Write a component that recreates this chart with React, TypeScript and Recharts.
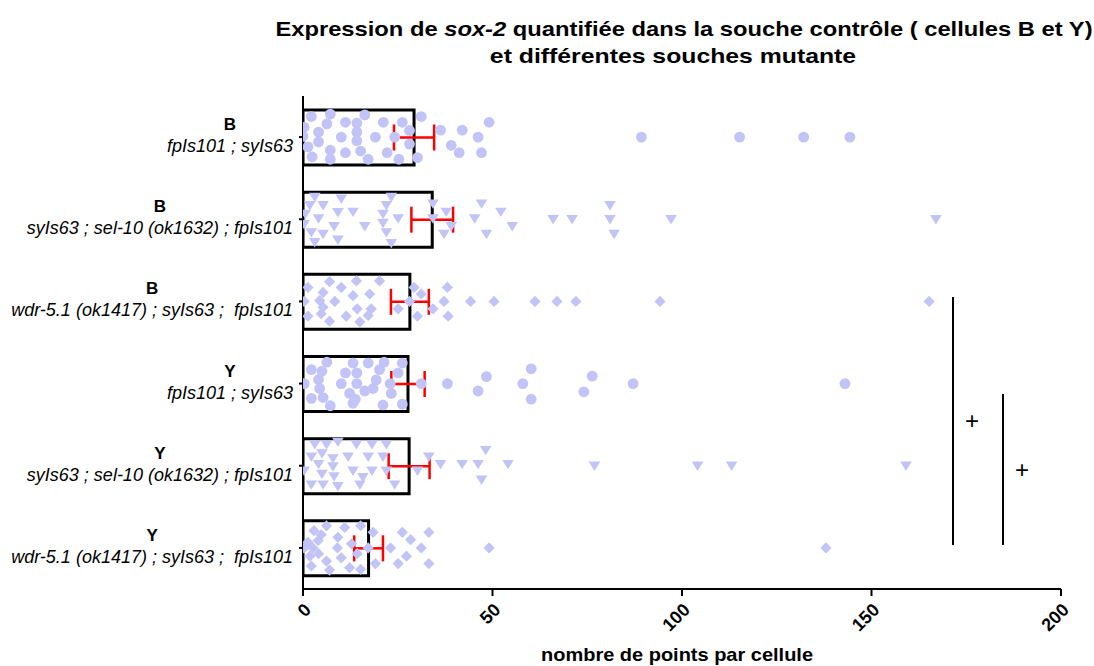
import React from 'react';
import { ComposedChart, Bar, XAxis, YAxis, Scatter, ErrorBar, ReferenceLine } from 'recharts';

const FONT = "'Liberation Sans', Arial, Helvetica, sans-serif";
const POINT_COLOR = '#c2c3f7';

// ---- data ----
const cellTypes = ['B', 'B', 'B', 'Y', 'Y', 'Y'];
const genotypes = [
  'fpIs101 ; syIs63',
  'syIs63 ; sel-10 (ok1632) ; fpIs101',
  'wdr-5.1 (ok1417) ; syIs63 ;  fpIs101',
  'fpIs101 ; syIs63',
  'syIs63 ; sel-10 (ok1632) ; fpIs101',
  'wdr-5.1 (ok1417) ; syIs63 ;  fpIs101',
];
const means = [29.3, 34.1, 28.2, 27.7, 28.0, 17.3];
const errors = [5.3, 5.5, 5.0, 4.4, 5.4, 3.8];
const xTicks = [0, 50, 100, 150, 200];

// each point: [value, vertical jitter in category units]
const pointsG1 = [[2.2,-0.25],[7.2,-0.28],[16.3,-0.27],[0.3,-0.12],[6.3,-0.16],[11.2,-0.18],[14.2,-0.17],[21.2,-0.18],[26.2,-0.18],[31.2,-0.25],[0,-0.01],[4.1,-0.06],[10.1,0],[14.2,-0.06],[19.1,0],[24.2,0],[28.1,-0.08],[4.1,0.06],[14.2,0.045],[1.3,0.12],[7.2,0.16],[11.2,0.19],[15.2,0.17],[22.2,0.19],[28.1,0.085],[2.4,0.24],[7.2,0.27],[17.2,0.27],[25.3,0.27],[30.2,0.25],[36.3,-0.085],[42.0,-0.085],[49.1,-0.18],[46.2,0],[39.1,0.1],[41.2,0.19],[47.1,0.19],[89.3,0],[115.2,0],[132.1,0],[144.3,0]];
const pointsG2 = [[3.1,-0.27],[10.1,-0.25],[23.3,-0.27],[1.8,-0.17],[5.3,-0.17],[22.0,-0.17],[0.6,-0.065],[4.1,-0.01],[9.2,-0.085],[13.2,-0.09],[21.1,-0.065],[25.1,-0.01],[0.3,0.06],[8.2,0.085],[16.3,0.085],[21.1,0.045],[2.2,0.16],[5.3,0.18],[22.0,0.16],[3.1,0.28],[9.2,0.25],[23.3,0.29],[34.3,-0.19],[37.8,-0.09],[34.3,-0.01],[39.1,0.085],[37.2,0.18],[47.1,-0.19],[52.2,-0.09],[45.3,-0.01],[55.2,0.085],[48.4,0.18],[66.0,0],[71.0,0],[81.0,-0.17],[81.0,0],[82.1,0.18],[97.1,0],[167.0,0]];
const pointsG3 = [[1.3,-0.17],[7.0,-0.24],[10.1,-0.17],[14.1,-0.25],[20.2,-0.25],[5.3,-0.11],[13.2,-0.07],[17.6,-0.09],[0.3,0],[4.4,-0.01],[8.4,0],[1.3,0.18],[5.3,0.07],[4.8,0.15],[11.4,0.18],[14.3,0.09],[18.0,0.09],[17.2,0.17],[7.0,0.24],[15.0,0.25],[25.1,0.09],[28.1,0],[29.3,-0.17],[31.2,-0.09],[34.3,0.09],[30.2,0.18],[38.1,-0.17],[37.2,0],[38.3,0.18],[44.2,0],[50.4,0],[61.2,0],[67.0,0],[72.0,0],[94.2,0],[165.2,0]];
const pointsG4 = [[2.2,-0.17],[6.3,-0.26],[13.2,-0.25],[17.2,-0.25],[21.4,-0.26],[26.2,-0.25],[5.0,-0.15],[11.2,-0.13],[14.2,-0.13],[20.2,-0.17],[25.1,-0.13],[0.3,0],[4.1,-0.05],[10.1,0],[14.2,0],[19.3,-0.045],[23.0,0],[4.4,0.06],[12.3,0.12],[16.3,0.09],[18.5,0.06],[23.3,0.12],[2.2,0.18],[5.3,0.17],[13.8,0.19],[13.2,0.24],[7.2,0.27],[21.1,0.26],[26.2,0.25],[31.2,0],[38.1,0],[46.2,0.09],[48.4,-0.085],[58.0,0],[60.2,-0.18],[60.2,0.19],[76.3,-0.09],[74.1,0.1],[87.1,0],[143.0,0]];
const pointsG5 = [[3.1,-0.26],[6.2,-0.26],[9.2,-0.29],[14.1,-0.26],[18.2,-0.26],[22.0,-0.26],[2.2,-0.11],[5.0,-0.15],[7.9,-0.09],[11.9,-0.11],[17.2,-0.11],[21.1,-0.11],[0.3,0.06],[4.1,-0.02],[7.9,0.01],[13.2,0.06],[18.2,0.06],[22.0,0.06],[5.0,0.1],[8.2,0.13],[15.8,0.14],[2.2,0.23],[5.3,0.23],[9.2,0.25],[15.0,0.23],[24.2,0.23],[30.2,0.06],[33.2,-0.11],[36.3,-0.02],[42.0,-0.02],[46.2,-0.02],[48.2,-0.19],[47.1,0.17],[54.1,-0.02],[76.9,0],[104.1,0],[113.1,0],[159.1,0]];
const pointsG6 = [[2.9,-0.21],[6.2,-0.27],[11.0,-0.25],[15.2,-0.27],[18.5,-0.19],[4.8,-0.16],[9.2,-0.13],[12.8,-0.05],[1.3,-0.07],[4.0,-0.09],[0.3,0],[2.6,0],[9.1,0],[17.2,0],[1.8,0.1],[4.1,0.07],[6.2,0.16],[10.1,0.12],[14.3,0.07],[2.2,0.22],[7.0,0.27],[12.3,0.24],[15.2,0.26],[19.1,0.19],[23.1,0],[26.2,-0.19],[28.4,-0.1],[27.3,0.1],[25.1,0.19],[31.2,0],[33.2,-0.19],[33.2,0.19],[49.1,0],[138.0,0]];
const groupPoints = [pointsG1, pointsG2, pointsG3, pointsG4, pointsG5, pointsG6];
const groupShapes = ['circle', 'triangle', 'diamond', 'circle', 'triangle', 'diamond'];

// significance brackets: x value, top and bottom in category units
const sigX = [171.5, 184.7];
const sigTop = [2.446, 3.627];
const sigBottom = [5.464, 5.464];
const sigLabels = ['+', '+'];

const chartData = genotypes.map((g, i) => ({
  name: `${cellTypes[i]}|${g}|${i}`,
  mean: means[i],
  err: errors[i],
}));

const scatterSets = groupPoints.map((pts, i) =>
  pts.map(([v, j]) => ({ x: v, y: i + 0.5 + j }))
);

const LABEL_SIZE = 18;

let ctx: CanvasRenderingContext2D | null = null;
function textWidth(t: string, font: string): number {
  if (!ctx) ctx = document.createElement('canvas').getContext('2d');
  if (!ctx) return t.length * 8;
  ctx.font = font;
  return ctx.measureText(t).width;
}

const CategoryTick = (props: any) => {
  const { x, y, payload } = props;
  const parts = String(payload.value).split('|');
  const cell = parts[0];
  const geno = parts[1];
  const w = textWidth(geno, `italic ${LABEL_SIZE}px ${FONT}`);
  return (
    <g>
      <text x={x - w / 2} y={y - 7} textAnchor="middle" fontFamily={FONT} fontWeight="bold" fontSize={17} fill="#000">
        {cell}
      </text>
      <text x={x} y={y + 15} textAnchor="end" fontFamily={FONT} fontStyle="italic" fontSize={LABEL_SIZE} fill="#000" style={{ whiteSpace: 'pre' }}>
        {geno}
      </text>
    </g>
  );
};

const makeShape = (kind: string) => (props: any) => {
  const { cx, cy } = props;
  if (cx == null || cy == null) return <g />;
  if (kind === 'circle') return <circle cx={cx} cy={cy} r={5.4} fill={POINT_COLOR} />;
  if (kind === 'triangle')
    return <polygon points={`${cx - 5.8},${cy - 4.2} ${cx + 5.8},${cy - 4.2} ${cx},${cy + 5.2}`} fill={POINT_COLOR} />;
  return <polygon points={`${cx},${cy - 5.6} ${cx + 5.6},${cy} ${cx},${cy + 5.6} ${cx - 5.6},${cy}`} fill={POINT_COLOR} />;
};

const titleStyle: React.CSSProperties = {
  position: 'absolute',
  whiteSpace: 'nowrap',
  fontWeight: 'bold',
  fontSize: 21,
  lineHeight: '24px',
  color: '#000',
};

export default function App() {
  return (
    <div style={{ position: 'absolute', left: 0, top: 0, width: 1094, height: 666, background: '#fff', fontFamily: FONT }}>
      <div style={{ ...titleStyle, left: 684, top: 17, transform: 'translateX(-50%) scaleX(1.13)' }}>
        Expression de <i>sox-2</i> quantifiée dans la souche contrôle ( cellules B et Y)
      </div>
      <div style={{ ...titleStyle, left: 673, top: 44, transform: 'translateX(-50%) scaleX(1.18)' }}>
        et différentes souches mutante
      </div>
      <ComposedChart
        width={1094}
        height={666}
        data={chartData}
        layout="vertical"
        margin={{ top: 96, right: 33, left: 8, bottom: 0 }}
      >
        <XAxis
          type="number"
          domain={[0, 200]}
          ticks={xTicks}
          allowDataOverflow
          height={77}
          axisLine={{ stroke: '#000', strokeWidth: 2 }}
          tickLine={{ stroke: '#000', strokeWidth: 2 }}
          tickSize={7}
          tickMargin={6}
          tick={{ angle: -45, textAnchor: 'end', fontSize: 18, fontWeight: 'bold', fill: '#000', fontFamily: FONT }}
        />
        <XAxis xAxisId="s" type="number" dataKey="x" domain={[0, 200]} allowDataOverflow hide />
        <YAxis
          type="category"
          dataKey="name"
          width={295}
          axisLine={{ stroke: '#000', strokeWidth: 2 }}
          tickLine={{ stroke: '#000', strokeWidth: 2 }}
          tickSize={4}
          tickMargin={6}
          tick={<CategoryTick />}
          interval={0}
        />
        <YAxis yAxisId="j" type="number" dataKey="y" domain={[0, 6]} allowDataOverflow hide />
        <Bar dataKey="mean" fill="none" stroke="#000" strokeWidth={3} barSize={55} isAnimationActive={false}>
          <ErrorBar dataKey="err" direction="x" stroke="#ff0000" strokeWidth={2.5} width={13} />
        </Bar>
        {scatterSets.map((d, i) => (
          <Scatter
            key={i}
            data={d}
            xAxisId="s"
            yAxisId="j"
            shape={makeShape(groupShapes[i])}
            isAnimationActive={false}
          />
        ))}
        {sigX.map((x, i) => (
          <ReferenceLine
            key={'sig' + i}
            xAxisId="s"
            yAxisId="j"
            segment={[{ x, y: sigTop[i] }, { x, y: sigBottom[i] }]}
            stroke="#000"
            strokeWidth={2}
            label={{ value: sigLabels[i], position: 'right', offset: 12, fontSize: 24, fill: '#000', fontFamily: FONT }}
          />
        ))}
      </ComposedChart>
      <div style={{ position: 'absolute', left: 677, top: 644, transform: 'translateX(-50%) scaleX(1.08)', whiteSpace: 'nowrap', fontWeight: 'bold', fontSize: 18.5, lineHeight: '22px', color: '#000' }}>
        nombre de points par cellule
      </div>
    </div>
  );
}
